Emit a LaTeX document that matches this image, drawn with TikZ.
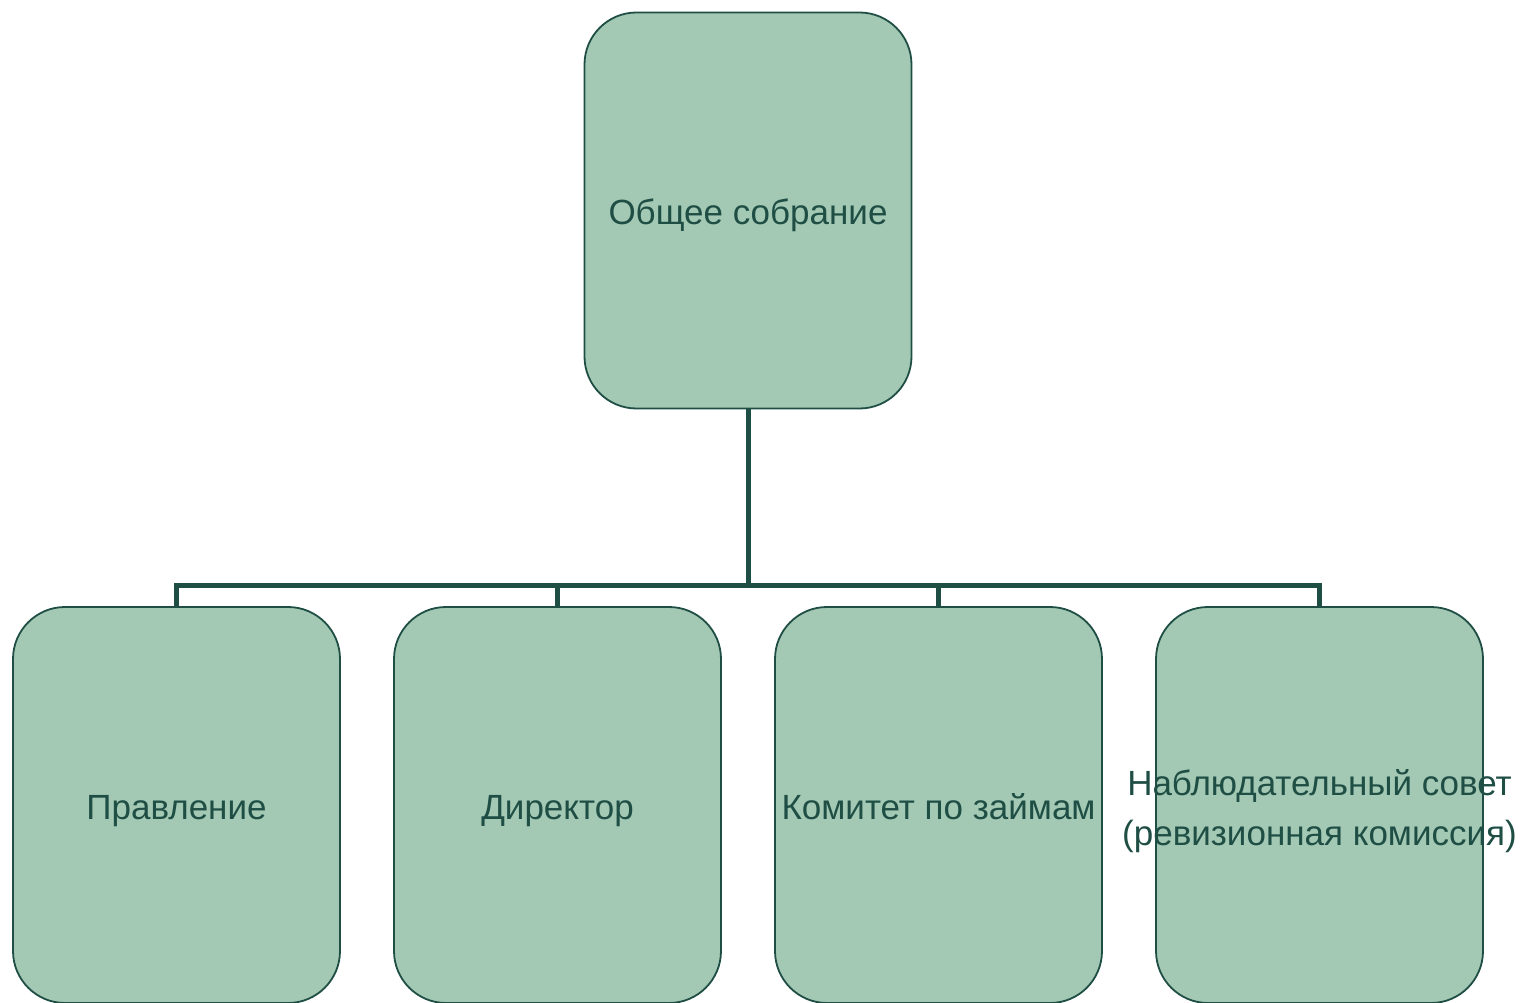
\documentclass[tikz,border=0pt]{standalone}
\usepackage{fontspec}
\setmainfont{Liberation Sans}
\usetikzlibrary{positioning}

\definecolor{boxfill}{HTML}{A3C9B4}
\definecolor{boxline}{HTML}{1F4E45}

\tikzset{
	orgbox/.style={draw=boxline, line width=1.8pt, fill=boxfill, rounded corners=52pt,
		minimum width=327pt, minimum height=396pt, inner sep=0pt,
		text=boxline, font=\fontsize{35}{50}\selectfont, align=center,
		text height=32pt, text depth=4pt},
	orgtext/.style={text=boxline, font=\fontsize{35}{50}\selectfont, align=center, inner sep=0pt,
		yshift=-6pt},
	conn/.style={draw=boxline, line width=5pt}
}

\begin{document}
\begin{tikzpicture}[x=1pt, y=1pt, node distance=381pt, on grid]
	\useasboundingbox (0,0) rectangle (1521,-1003);

	%% TOP
	\node[orgbox](obshee) at (748,-210.5){Общее собрание};

	%% CHILDREN
	\node[orgbox](pravlenie) at (176.5,-805){Правление};
	\node[orgbox, right=of pravlenie](direktor){Директор};
	\node[orgbox, right=of direktor](komitet){Комитет по займам};
	\node[orgbox, right=of komitet](sovet){};
	\node[orgtext](sovet_text) at (sovet.center){Наблюдательный совет\\(ревизионная комиссия)};

	% bus line
	\coordinate (bus) at (748,-585);
	\draw[conn] (obshee.south) -- (bus);
	\foreach \child in {pravlenie, direktor, komitet, sovet}
		\draw[conn] (\child.north) |- (bus);

\end{tikzpicture}
\end{document}
